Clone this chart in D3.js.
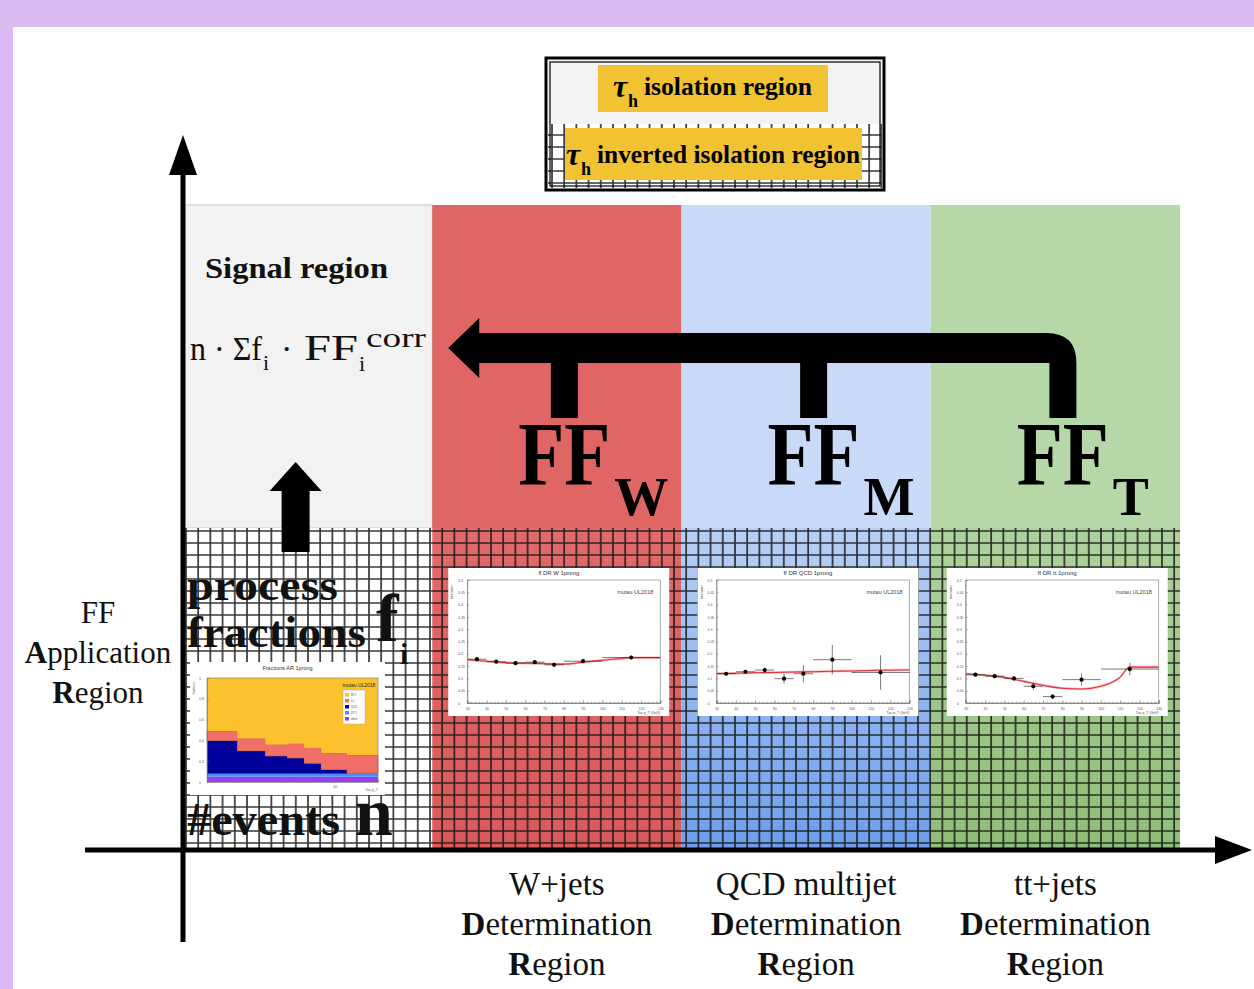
<!DOCTYPE html>
<html>
<head>
<meta charset="utf-8">
<script src="https://cdn.jsdelivr.net/npm/d3@7"></script>
<style>
  body { margin: 0; background: #dcbbf2; }
  svg { display: block; }
</style>
</head>
<body>
<svg id="chart"></svg>
<script>
// ---- data ----
let regions = ["AR", "W", "QCD", "TT"];
let regionNames = ["W+jets", "QCD multijet", "tt+jets"];
let ffSubs = ["W", "M", "T"];
let ffTitles = ["ff DR W 1prong", "ff DR QCD 1prong", "ff DR tt 1prong"];

let ptEdges = [30, 40, 50, 60, 70, 80, 100, 130];
let ffW = [0.178, 0.168, 0.162, 0.166, 0.155, 0.170, 0.185];
let ffWErr = [0.004, 0.004, 0.004, 0.004, 0.005, 0.006, 0.008];
let ffQCD = [0.119, 0.127, 0.134, 0.099, 0.119, 0.176, 0.124];
let ffQCDErr = [0.006, 0.008, 0.010, 0.020, 0.035, 0.060, 0.070];
let ffTT = [0.115, 0.109, 0.100, 0.068, 0.026, 0.095, 0.138];
let ffTTErr = [0.006, 0.006, 0.010, 0.015, 0.010, 0.025, 0.025];

let fitPt = [30, 40, 50, 60, 70, 80, 90, 100, 110, 115, 130];
let fitW = [0.176, 0.170, 0.164, 0.162, 0.160, 0.158, 0.166, 0.174, 0.181, 0.184, 0.184];
let fitQCD = [0.120, 0.121, 0.123, 0.124, 0.126, 0.127, 0.129, 0.130, 0.132, 0.133, 0.134];
let fitTT = [0.119, 0.113, 0.104, 0.088, 0.072, 0.060, 0.057, 0.068, 0.105, 0.146, 0.146];

let fracEdges = [30, 40, 52, 64, 75, 88, 112, 150];
let fracLayers = ["other", "DY J", "QCD", "tt J", "W J"];
let fracOther = [0.05, 0.05, 0.05, 0.05, 0.05, 0.05, 0.05];
let fracDY = [0.03, 0.03, 0.03, 0.03, 0.03, 0.03, 0.03];
let fracQCD = [0.32, 0.22, 0.17, 0.15, 0.10, 0.04, 0.005];
let fracTT = [0.09, 0.12, 0.11, 0.14, 0.15, 0.16, 0.175];
let fracWJ = [0.51, 0.58, 0.64, 0.63, 0.67, 0.72, 0.74];

// ---- setup ----
let w = 1254, h = 989;
let serif = "'Liberation Serif', 'DejaVu Serif', serif";
let svg = d3.select('#chart').attr('width', w).attr('height', h);

let top0 = 205, mid = 528, axisY = 850;
let xBand = d3.scaleBand().domain(regions).range([183, 1180]);
let topFill = d3.scaleOrdinal().domain(regions).range(["#f2f2f2", "#e06666", "#c9daf8", "#b6d7a8"]);

let defs = svg.append('defs');
let pat = defs.append('pattern').attr('id', 'grid').attr('patternUnits', 'userSpaceOnUse')
    .attr('width', 12.2).attr('height', 12).attr('x', 185).attr('y', 530);
pat.append('path').attr('d', 'M0,1H12.2M1,0V12').attr('stroke', '#141414')
    .attr('stroke-width', 1.7).attr('fill', 'none').attr('opacity', 0.85);

let addGrad = (id, c1, c2) => {
    let g = defs.append('linearGradient').attr('id', id).attr('x1', 0).attr('y1', 0).attr('x2', 0).attr('y2', 1);
    g.append('stop').attr('offset', '0%').attr('stop-color', c1);
    g.append('stop').attr('offset', '100%').attr('stop-color', c2);
};
addGrad('gAR', '#ffffff', '#ffffff');
addGrad('gW', '#e26a6a', '#da5a5a');
addGrad('gQCD', '#b9d0f6', '#6d9eeb');
addGrad('gTT', '#aed29c', '#8fbe78');

// white panel
svg.append('rect').attr('x', 13).attr('y', 27).attr('width', w - 13).attr('height', h - 27).attr('fill', '#fff');

// region columns
svg.selectAll('rect.top').data(regions).enter().append('rect')
    .attr('class', 'top')
    .attr('x', d => xBand(d)).attr('y', top0)
    .attr('width', xBand.bandwidth()).attr('height', mid - top0)
    .attr('fill', d => topFill(d))
    .attr('stroke', d => d == "AR" ? '#c8c8c8' : 'none');

svg.selectAll('rect.bot').data(regions).enter().append('rect')
    .attr('class', 'bot')
    .attr('x', d => xBand(d)).attr('y', mid)
    .attr('width', xBand.bandwidth()).attr('height', axisY - mid)
    .attr('fill', d => 'url(#g' + d + ')');
svg.append('rect').attr('x', xBand('AR')).attr('y', mid)
    .attr('width', 997).attr('height', axisY - mid).attr('fill', 'url(#grid)');

// legend box
let lg = svg.append('g');
lg.append('rect').attr('x', 548).attr('y', 60).attr('width', 334).attr('height', 64).attr('fill', '#f3f3f3');
lg.append('rect').attr('x', 548).attr('y', 124).attr('width', 334).attr('height', 64).attr('fill', '#fff');
lg.append('rect').attr('x', 548).attr('y', 124).attr('width', 334).attr('height', 64).attr('fill', 'url(#grid)');
lg.append('rect').attr('x', 546).attr('y', 58).attr('width', 338).attr('height', 132)
    .attr('fill', 'none').attr('stroke', '#000').attr('stroke-width', 3);
lg.append('rect').attr('x', 550).attr('y', 62).attr('width', 330).attr('height', 124)
    .attr('fill', 'none').attr('stroke', '#000').attr('stroke-width', 1.2);
lg.append('rect').attr('x', 598).attr('y', 65).attr('width', 230).attr('height', 47).attr('fill', '#f1c232');
lg.append('rect').attr('x', 565).attr('y', 128).attr('width', 297).attr('height', 52).attr('fill', '#f1c232');

let tauLabel = (x, y, text, len) => {
    lg.append('text').attr('x', x).attr('y', y).attr('font-family', serif).attr('font-weight', 'bold')
        .attr('font-style', 'italic').attr('font-size', 32).text('τ');
    lg.append('text').attr('x', x + 15).attr('y', y + 10).attr('font-family', serif).attr('font-weight', 'bold')
        .attr('font-size', 18).text('h');
    lg.append('text').attr('x', x + 31).attr('y', y - 2).attr('font-family', serif).attr('font-weight', 'bold')
        .attr('font-size', 25).attr('textLength', len).attr('lengthAdjust', 'spacingAndGlyphs').text(text);
};
tauLabel(613, 97, 'isolation region', 168);
tauLabel(566, 165, 'inverted isolation region', 263);

// ---- FF inset plots ----
let drawFF = (g, pw, ph, title, vals, errs, fit) => {
    let m = {l: 19, r: 9, t: 12, b: 13};
    let x = d3.scaleLinear().domain([30, 130]).range([m.l, pw - m.r]);
    let y = d3.scaleLinear().domain([0, 0.5]).range([ph - m.b, m.t]);
    g.append('rect').attr('width', pw).attr('height', ph).attr('fill', '#fff');
    g.append('rect').attr('x', m.l).attr('y', m.t).attr('width', pw - m.l - m.r).attr('height', ph - m.t - m.b)
        .attr('fill', 'none').attr('stroke', '#777').attr('stroke-width', 0.6);
    let ya = g.append('g').attr('transform', 'translate(' + m.l + ',0)')
        .call(d3.axisRight(y).tickValues(d3.range(0, 0.51, 0.05)).tickSize(2).tickFormat(d3.format('.2~f')));
    ya.selectAll('text').attr('x', -9).attr('font-size', 3.5).attr('fill', '#555');
    g.append('g').attr('transform', 'translate(0,' + (ph - m.b) + ')')
        .call(d3.axisTop(x).ticks(50).tickSize(1.5).tickFormat(''));
    let xa2 = g.append('g').attr('transform', 'translate(0,' + (ph - m.b) + ')')
        .call(d3.axisTop(x).tickValues(d3.range(30, 131, 10)).tickSize(3));
    xa2.selectAll('text').attr('y', 7).attr('font-size', 3.5).attr('fill', '#555');
    g.selectAll('.domain').attr('stroke', '#777').attr('stroke-width', 0.6);
    g.selectAll('.tick line').attr('stroke', '#777').attr('stroke-width', 0.5);

    g.append('text').attr('x', pw / 2).attr('y', 7).attr('text-anchor', 'middle')
        .attr('font-family', 'Liberation Sans, Arial, sans-serif').attr('font-size', 6).attr('fill', '#333').text(title);
    g.append('text').attr('x', pw - 34).attr('y', 26).attr('text-anchor', 'middle')
        .attr('font-family', 'Liberation Sans, Arial, sans-serif').attr('font-size', 5.5).attr('fill', '#444').text('mutau  UL2018');
    g.append('text').attr('x', pw - m.r).attr('y', ph - 2).attr('text-anchor', 'end')
        .attr('font-family', 'Liberation Sans, Arial, sans-serif').attr('font-size', 3.5).attr('fill', '#555').text('Tau p_T (GeV)');
    g.append('text').attr('transform', 'translate(5,' + (m.t + 12) + ') rotate(-90)').attr('text-anchor', 'middle')
        .attr('font-family', 'Liberation Sans, Arial, sans-serif').attr('font-size', 3).attr('fill', '#555').text('fake factor');

    let fitData = fitPt.map((p, i) => ({p: p, v: fit[i]}));
    g.append('path').datum(fitData)
        .attr('d', d3.area().x(d => x(d.p)).y0(d => y(d.v - 0.005)).y1(d => y(d.v + 0.005)).curve(d3.curveMonotoneX))
        .attr('fill', '#f6b7b7');
    g.append('path').datum(fitData)
        .attr('d', d3.line().x(d => x(d.p)).y(d => y(d.v)).curve(d3.curveMonotoneX))
        .attr('fill', 'none').attr('stroke', '#e0313c').attr('stroke-width', 1.1);

    let pts = vals.map((v, i) => ({lo: ptEdges[i], hi: ptEdges[i + 1], v: v, e: errs[i]}));
    let pg = g.selectAll('g.pt').data(pts).enter().append('g');
    pg.append('line').attr('x1', d => x(d.lo)).attr('x2', d => x(d.hi))
        .attr('y1', d => y(d.v)).attr('y2', d => y(d.v)).attr('stroke', '#222').attr('stroke-width', 0.6);
    pg.append('line').attr('x1', d => x((d.lo + d.hi) / 2)).attr('x2', d => x((d.lo + d.hi) / 2))
        .attr('y1', d => y(d.v - d.e)).attr('y2', d => y(d.v + d.e)).attr('stroke', '#222').attr('stroke-width', 0.6);
    pg.append('circle').attr('cx', d => x((d.lo + d.hi) / 2)).attr('cy', d => y(d.v)).attr('r', 2.1).attr('fill', '#000');
};

let ffSets = [[ffW, ffWErr, fitW], [ffQCD, ffQCDErr, fitQCD], [ffTT, ffTTErr, fitTT]];
regions.slice(1).forEach((r, i) => {
    let g = svg.append('g').attr('transform', 'translate(' + (xBand(r) + 16) + ',568)');
    drawFF(g, 221, 148, ffTitles[i], ffSets[i][0], ffSets[i][1], ffSets[i][2]);
});

// ---- fractions inset ----
let drawFractions = (g, pw, ph) => {
    let m = {l: 17, r: 7, t: 16, b: 13};
    let x = d3.scaleLog().domain([30, 150]).range([m.l, pw - m.r]);
    let y = d3.scaleLinear().domain([0, 1]).range([ph - m.b, m.t]);
    let colors = d3.scaleOrdinal().domain(fracLayers).range(["#9b3cf2", "#4d8ff5", "#00009a", "#f26f69", "#fbc22e"]);
    let cols = [fracOther, fracDY, fracQCD, fracTT, fracWJ];
    let table = fracEdges.slice(0, -1).map((e, i) => {
        let row = {pt: e};
        fracLayers.forEach((k, j) => row[k] = cols[j][i]);
        return row;
    });
    let lastRow = Object.assign({}, table[table.length - 1], {pt: fracEdges[fracEdges.length - 1]});
    table.push(lastRow);
    let series = d3.stack().keys(fracLayers)(table);

    g.append('rect').attr('width', pw).attr('height', ph).attr('fill', '#fff');
    g.selectAll('path.layer').data(series).enter().append('path')
        .attr('d', d3.area().x(d => x(d.data.pt)).y0(d => y(d[0])).y1(d => y(d[1])).curve(d3.curveStepAfter))
        .attr('fill', d => colors(d.key))
        .attr('stroke', d => d.key == 'tt J' ? '#c8602e' : 'none').attr('stroke-width', 0.6);
    g.append('rect').attr('x', m.l).attr('y', m.t).attr('width', pw - m.l - m.r).attr('height', ph - m.t - m.b)
        .attr('fill', 'none').attr('stroke', '#777').attr('stroke-width', 0.6);
    let ya = g.append('g').attr('transform', 'translate(' + m.l + ',0)')
        .call(d3.axisRight(y).tickValues([0, 0.2, 0.4, 0.6, 0.8, 1]).tickSize(2).tickFormat(d3.format('~g')));
    ya.selectAll('text').attr('x', -8).attr('font-size', 3.5).attr('fill', '#555');
    let xa = g.append('g').attr('transform', 'translate(0,' + (ph - m.b) + ')')
        .call(d3.axisTop(x).tickValues([40, 50, 60, 70, 80, 90, 100]).tickSize(2).tickFormat(d => d == 100 ? '10²' : ''));
    xa.selectAll('text').attr('y', 6).attr('font-size', 3.5).attr('fill', '#555');
    g.selectAll('.domain').attr('stroke', '#777').attr('stroke-width', 0.6);
    g.selectAll('.tick line').attr('stroke', '#777').attr('stroke-width', 0.5);

    g.append('text').attr('x', pw / 2).attr('y', 8).attr('text-anchor', 'middle')
        .attr('font-family', 'Liberation Sans, Arial, sans-serif').attr('font-size', 5.5).attr('fill', '#333').text('Fractions AR 1prong');
    g.append('text').attr('x', pw - 26).attr('y', 25).attr('text-anchor', 'middle')
        .attr('font-family', 'Liberation Sans, Arial, sans-serif').attr('font-size', 5).attr('fill', '#222').text('mutau  UL2018');
    g.append('text').attr('x', pw - m.r).attr('y', ph - 4).attr('text-anchor', 'end')
        .attr('font-family', 'Liberation Sans, Arial, sans-serif').attr('font-size', 3.5).attr('fill', '#555').text('Tau p_T');
    g.append('text').attr('transform', 'translate(5,' + (m.t + 10) + ') rotate(-90)').attr('text-anchor', 'middle')
        .attr('font-family', 'Liberation Sans, Arial, sans-serif').attr('font-size', 3).attr('fill', '#555').text('fractions');

    let leg = g.append('g').attr('transform', 'translate(' + (pw - 42) + ',28)');
    leg.append('rect').attr('width', 22).attr('height', 34).attr('fill', '#fff').attr('stroke', '#999').attr('stroke-width', 0.4);
    let items = fracLayers.slice().reverse();
    leg.selectAll('rect.sw').data(items).enter().append('rect')
        .attr('x', 2).attr('y', (d, i) => 3 + i * 6).attr('width', 4).attr('height', 3.5).attr('fill', d => colors(d));
    leg.selectAll('text').data(items).enter().append('text')
        .attr('x', 8).attr('y', (d, i) => 6.3 + i * 6).attr('font-size', 2.8)
        .attr('font-family', 'Liberation Sans, Arial, sans-serif').attr('fill', '#444').text(d => d);
};
drawFractions(svg.append('g').attr('transform', 'translate(190,662)'), 195, 133);

// ---- arrows ----
let arrowY0 = 333, arrowY1 = 363, stubEnd = 418, stubOff = 7.5, stubW = 27;
let tipX = xBand('W') + 16;
let rightC = xBand('TT') + xBand.bandwidth() / 2 + stubOff;
let ar = d3.path();
ar.moveTo(tipX, (arrowY0 + arrowY1) / 2);
ar.lineTo(tipX + 31, arrowY0 - 15);
ar.lineTo(tipX + 31, arrowY0);
ar.lineTo(rightC + stubW / 2 - 30, arrowY0);
ar.quadraticCurveTo(rightC + stubW / 2, arrowY0, rightC + stubW / 2, arrowY1);
ar.lineTo(rightC + stubW / 2, stubEnd);
ar.lineTo(rightC - stubW / 2, stubEnd);
ar.lineTo(rightC - stubW / 2, arrowY1);
ar.lineTo(tipX + 31, arrowY1);
ar.lineTo(tipX + 31, arrowY1 + 15);
ar.closePath();
svg.append('path').attr('d', ar.toString()).attr('fill', '#000');

svg.selectAll('rect.stub').data(['W', 'QCD']).enter().append('rect')
    .attr('x', d => xBand(d) + xBand.bandwidth() / 2 + stubOff - stubW / 2)
    .attr('y', arrowY1 - 2).attr('width', stubW).attr('height', stubEnd - arrowY1 + 2).attr('fill', '#000');

// up arrow in application region
let ux = xBand('AR') + xBand.bandwidth() / 2 - 12;
let up = d3.path();
up.moveTo(ux, 462);
up.lineTo(ux + 26, 491);
up.lineTo(ux + 14, 491);
up.lineTo(ux + 14, 552);
up.lineTo(ux - 14, 552);
up.lineTo(ux - 14, 491);
up.lineTo(ux - 26, 491);
up.closePath();
svg.append('path').attr('d', up.toString()).attr('fill', '#000');

// ---- FF labels ----
regions.slice(1).forEach((r, i) => {
    let x0 = xBand(r) + 86;
    svg.append('text').attr('x', x0).attr('y', 485).attr('font-family', serif).attr('font-weight', 'bold')
        .attr('font-size', 90).attr('textLength', 92).attr('lengthAdjust', 'spacingAndGlyphs').text('FF');
    svg.append('text').attr('x', x0 + 96).attr('y', 515).attr('font-family', serif).attr('font-weight', 'bold')
        .attr('font-size', 54).text(ffSubs[i]);
});

// ---- AR texts ----
let txt = (x, y, s, size, opts) => {
    let t = svg.append('text').attr('x', x).attr('y', y).attr('font-family', serif)
        .attr('font-size', size).attr('fill', '#111').text(s);
    if (opts && opts.bold) t.attr('font-weight', 'bold');
    if (opts && opts.len) t.attr('textLength', opts.len).attr('lengthAdjust', 'spacingAndGlyphs');
    if (opts && opts.anchor) t.attr('text-anchor', opts.anchor);
    return t;
};
txt(205, 278, 'Signal region', 30, {bold: true, len: 183});
txt(190, 360, 'n · Σf', 34, {len: 72});
txt(263, 370, 'i', 22);
txt(281, 360, '·', 34);
txt(304, 360, 'FF', 36, {len: 54});
txt(359, 371, 'i', 22);
txt(366, 347, 'corr', 27, {len: 60});

txt(187, 600, 'process', 45, {bold: true, len: 151});
txt(187, 647, 'fractions', 45, {bold: true, len: 179});
txt(376, 641, 'f', 68, {bold: true});
txt(400, 664, 'i', 30, {bold: true});
txt(187, 835, '#events', 46, {bold: true, len: 153});
txt(355, 835, 'n', 68, {bold: true});

// left axis label
let leftLines = [['', 'FF'], ['A', 'pplication'], ['R', 'egion']];
leftLines.forEach((l, i) => {
    let t = svg.append('text').attr('x', 98).attr('y', 623 + i * 40).attr('text-anchor', 'middle')
        .attr('font-family', serif).attr('font-size', 31).attr('fill', '#111');
    t.append('tspan').attr('font-weight', 'bold').text(l[0]);
    t.append('tspan').text(l[1]);
});

// bottom labels
regions.slice(1).forEach((r, i) => {
    let cx = xBand(r) + xBand.bandwidth() / 2;
    let lines = [['', regionNames[i]], ['D', 'etermination'], ['R', 'egion']];
    lines.forEach((l, j) => {
        let t = svg.append('text').attr('x', cx).attr('y', 895 + j * 40).attr('text-anchor', 'middle')
            .attr('font-family', serif).attr('font-size', 33).attr('fill', '#111');
        t.append('tspan').attr('font-weight', 'bold').text(l[0]);
        t.append('tspan').text(l[1]);
    });
});

// ---- axes ----
svg.append('line').attr('x1', 183).attr('x2', 183).attr('y1', 942).attr('y2', 170)
    .attr('stroke', '#000').attr('stroke-width', 5);
svg.append('path').attr('d', 'M183,135L197,175L169,175Z').attr('fill', '#000');
svg.append('line').attr('x1', 85).attr('x2', 1218).attr('y1', axisY).attr('y2', axisY)
    .attr('stroke', '#000').attr('stroke-width', 5);
svg.append('path').attr('d', 'M1252,' + axisY + 'L1215,' + (axisY - 14) + 'L1215,' + (axisY + 14) + 'Z').attr('fill', '#000');
</script>
</body>
</html>
